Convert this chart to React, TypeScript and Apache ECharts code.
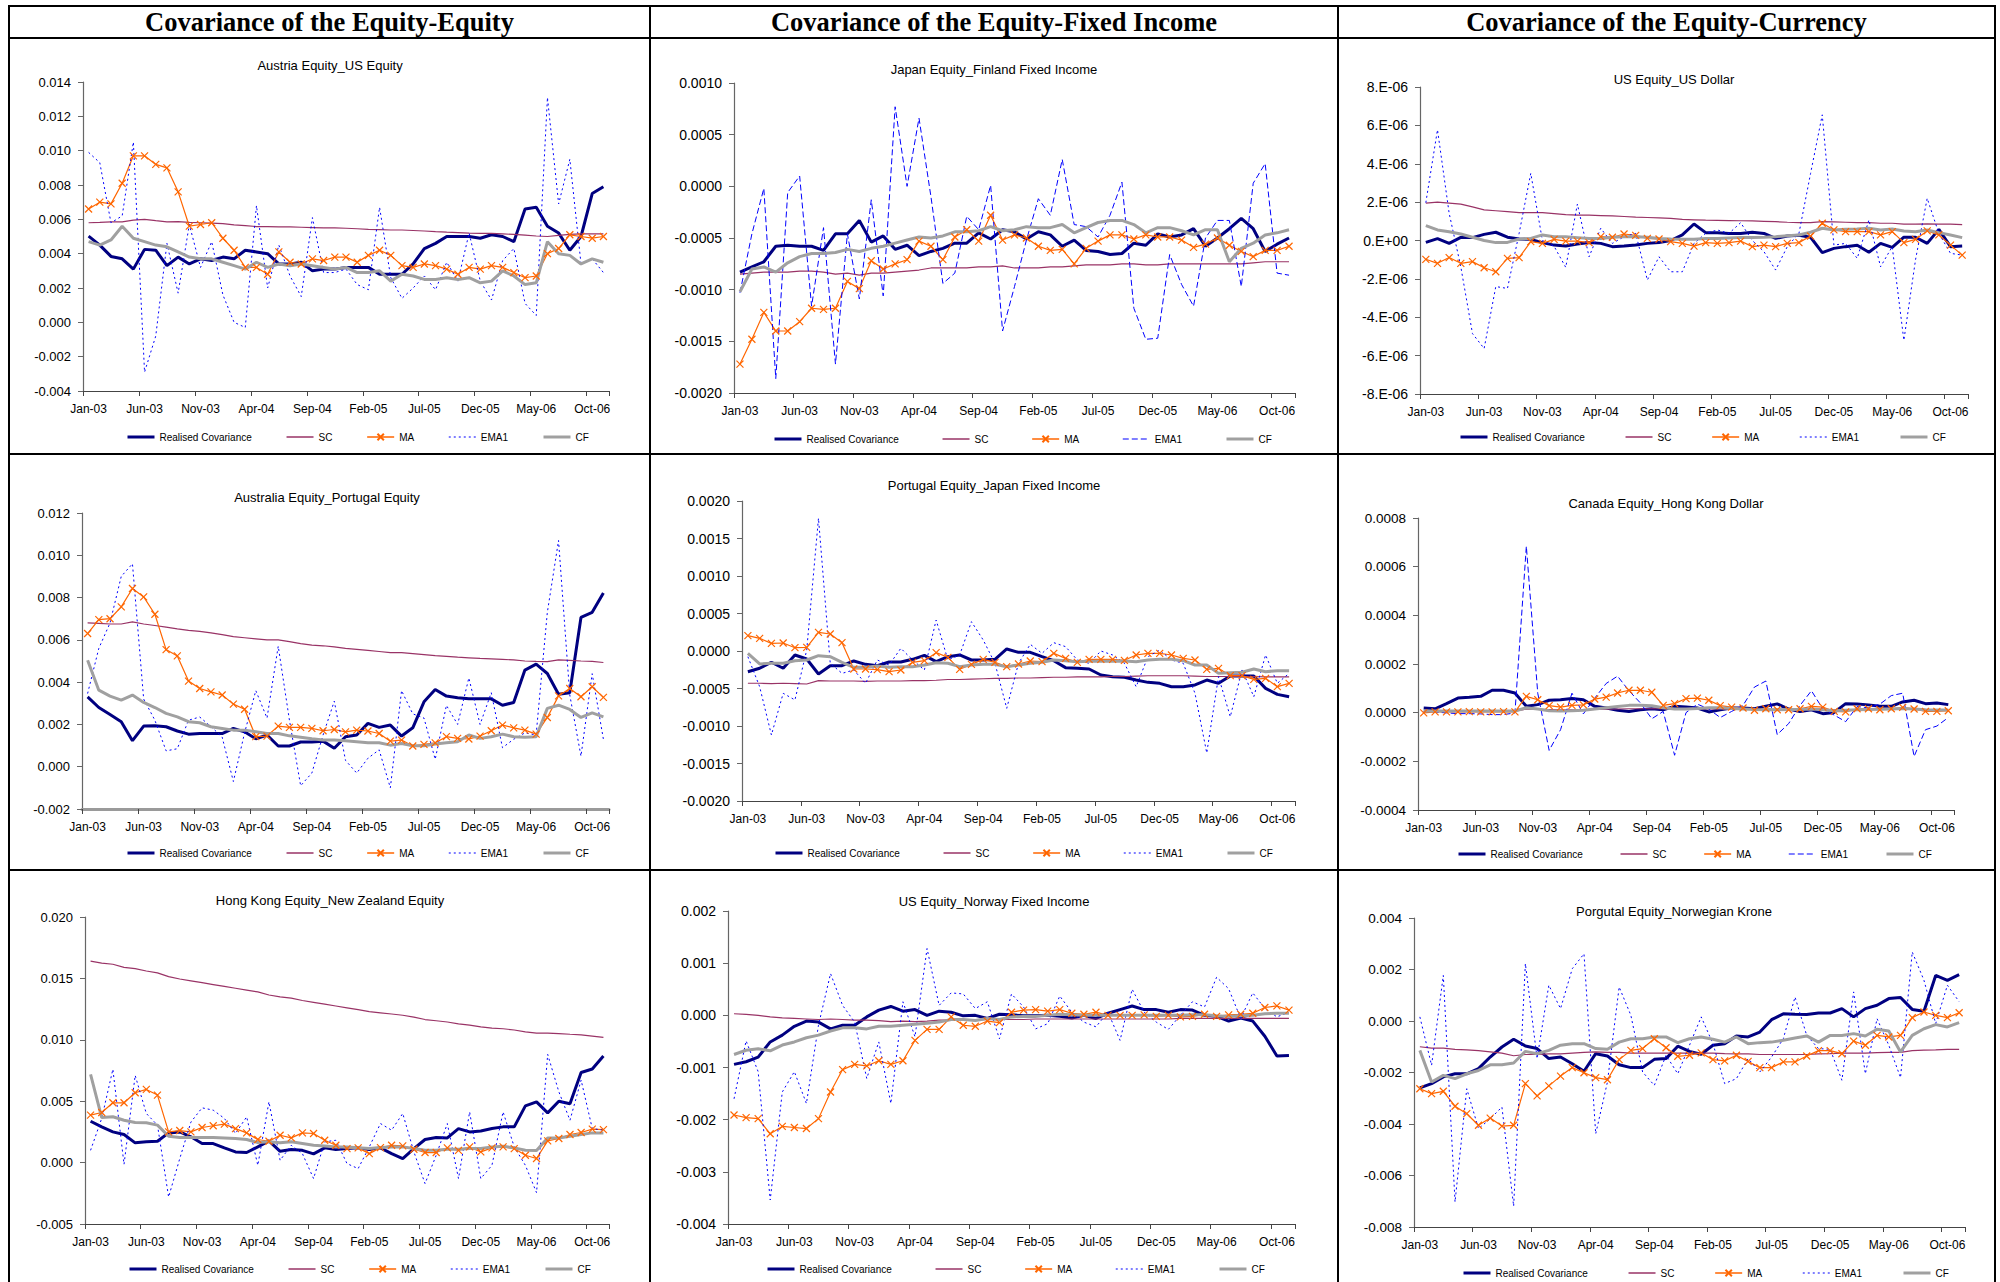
import React, { useEffect, useRef } from 'react';
import * as echarts from 'echarts';

const months = [
  'Jan-03','Feb-03','Mar-03','Apr-03','May-03','Jun-03','Jul-03','Aug-03','Sep-03','Oct-03','Nov-03','Dec-03',
  'Jan-04','Feb-04','Mar-04','Apr-04','May-04','Jun-04','Jul-04','Aug-04','Sep-04','Oct-04','Nov-04','Dec-04',
  'Jan-05','Feb-05','Mar-05','Apr-05','May-05','Jun-05','Jul-05','Aug-05','Sep-05','Oct-05','Nov-05','Dec-05',
  'Jan-06','Feb-06','Mar-06','Apr-06','May-06','Jun-06','Jul-06','Aug-06','Sep-06','Oct-06','Nov-06',
];

const seriesNames = ['Realised Covariance', 'SC', 'MA', 'EMA1', 'CF'];

const columnHeaders = [
  'Covariance of the Equity-Equity',
  'Covariance of the Equity-Fixed Income',
  'Covariance of the Equity-Currency',
];

const chartTitles = [
  'Austria Equity_US Equity',
  'Japan Equity_Finland Fixed Income',
  'US Equity_US Dollar',
  'Australia Equity_Portugal Equity',
  'Portugal Equity_Japan Fixed Income',
  'Canada Equity_Hong Kong Dollar',
  'Hong Kong Equity_New Zealand Equity',
  'US Equity_Norway Fixed Income',
  'Porgutal Equity_Norwegian Krone',
];

// value units per chart (values below are written in these units)
const units = [1e-3, 1e-4, 1e-6, 1e-3, 1e-4, 1e-4, 1e-3, 1e-3, 1e-3];
const yMins = [-0.004, -0.002, -8e-6, -0.002, -0.002, -0.0004, -0.005, -0.004, -0.008];
const yMaxs = [0.014, 0.001, 8e-6, 0.012, 0.002, 0.0008, 0.02, 0.002, 0.004];
const yIntervals = [0.002, 0.0005, 2e-6, 0.002, 0.0005, 0.0002, 0.005, 0.001, 0.002];
const yFormats = ['f3', 'f4', 'e6', 'f3', 'f4', 'f4', 'f3', 'f3', 'f3'];

// Chart 1: Austria Equity_US Equity (x1e-3)
const rc1 = [5.02,4.5,3.84,3.7,3.1,4.25,4.2,3.3,3.8,3.4,3.7,3.6,3.8,3.7,4.2,4.1,4.0,3.4,3.4,3.5,3.0,3.1,3.1,3.2,3.2,3.2,2.8,2.8,2.8,3.4,4.3,4.6,5.0,5.0,5.0,4.9,5.1,5.0,4.7,6.6,6.7,5.6,5.2,4.2,5.0,7.5,7.9];
const sc1 = [5.8,5.82,5.85,5.85,5.95,6.0,5.92,5.85,5.87,5.82,5.8,5.78,5.75,5.68,5.63,5.58,5.57,5.56,5.56,5.54,5.52,5.5,5.5,5.48,5.45,5.42,5.4,5.38,5.38,5.35,5.32,5.28,5.25,5.23,5.2,5.18,5.18,5.15,5.12,5.08,5.03,5.0,5.07,5.12,5.15,5.15,5.15];
const ma1 = [6.6,7.0,6.9,8.1,9.7,9.7,9.2,9.0,7.6,5.6,5.7,5.8,4.9,4.2,3.2,3.2,2.8,4.1,3.5,3.4,3.7,3.6,3.8,3.8,3.5,3.9,4.2,3.9,3.3,3.2,3.4,3.3,3.1,2.8,3.2,3.1,3.3,3.2,2.9,2.6,2.7,4.0,4.3,5.1,5.0,4.9,5.0];
const ema1 = [9.9,9.3,5.8,6.2,10.5,-2.9,-0.8,4.6,1.7,5.7,3.2,4.7,1.6,0.0,-0.3,6.8,2.0,4.5,2.7,1.5,6.1,2.9,2.9,3.1,2.2,1.9,6.7,2.6,1.4,2.0,2.7,1.9,3.5,2.4,5.2,2.4,1.3,3.6,4.3,1.1,0.4,13.1,6.9,9.5,3.4,3.7,2.9];
const cf1 = [4.7,4.5,4.8,5.6,4.9,4.7,4.5,4.4,4.1,3.8,3.7,3.7,3.5,3.3,3.1,3.5,3.2,3.4,3.3,3.4,3.3,3.2,3.1,3.2,2.9,2.9,3.0,2.4,2.8,2.7,2.5,2.5,2.6,2.5,2.6,2.3,2.4,3.0,2.7,2.2,2.3,4.7,4.0,3.9,3.4,3.7,3.5];

// Chart 2: Japan Equity_Finland Fixed Income (x1e-4)
const rc2 = [-8.3,-7.8,-7.3,-5.8,-5.7,-5.8,-5.8,-6.2,-4.6,-4.6,-3.3,-5.4,-4.8,-6.1,-5.7,-6.7,-6.3,-6.0,-5.5,-5.5,-4.5,-5.1,-4.2,-4.4,-5.1,-4.4,-4.7,-5.8,-5.2,-6.2,-6.3,-6.6,-6.5,-5.5,-5.7,-4.6,-4.9,-4.7,-4.1,-5.8,-5.0,-4.1,-3.1,-4.1,-6.3,-5.6,-5.0];
const sc2 = [-8.5,-8.4,-8.3,-8.3,-8.3,-8.2,-8.2,-8.3,-8.5,-8.4,-8.6,-8.4,-8.4,-8.3,-8.2,-8.1,-7.9,-7.9,-7.9,-7.9,-7.8,-7.8,-7.7,-7.9,-7.9,-7.9,-7.8,-7.8,-7.7,-7.6,-7.6,-7.6,-7.5,-7.5,-7.6,-7.6,-7.5,-7.5,-7.5,-7.5,-7.5,-7.5,-7.5,-7.4,-7.3,-7.3,-7.3];
const ma2 = [-17.2,-14.8,-12.2,-14.0,-14.0,-13.1,-11.8,-11.9,-11.8,-9.2,-9.9,-7.2,-8.0,-7.5,-7.1,-5.3,-5.8,-7.1,-4.9,-4.2,-5.3,-2.8,-5.2,-4.7,-5.0,-5.8,-6.2,-6.1,-7.5,-6.0,-5.3,-4.7,-4.7,-5.1,-4.7,-4.9,-4.9,-5.2,-5.9,-5.6,-5.0,-5.7,-6.3,-6.8,-6.2,-6.2,-5.8];
const ema2 = [-10.3,-4.6,-0.2,-18.6,-0.6,1.0,-11.6,-4.0,-17.2,-4.6,-10.9,-1.3,-10.6,7.7,0.0,6.6,-1.0,-9.4,-8.4,-2.9,-4.2,0.1,-14.0,-9.7,-5.2,-1.2,-2.8,2.6,-3.7,-3.9,-4.9,-2.8,0.4,-11.8,-14.8,-14.7,-6.6,-9.5,-11.6,-5.0,-3.3,-3.3,-9.7,0.3,2.2,-8.4,-8.6];
const cf2 = [-10.2,-8.0,-7.8,-8.3,-7.4,-6.8,-6.5,-6.5,-6.4,-6.1,-6.3,-6.0,-5.8,-5.5,-5.2,-4.9,-5.0,-4.8,-4.4,-4.4,-4.3,-3.9,-4.3,-4.2,-3.9,-4.0,-4.0,-3.7,-4.5,-4.0,-3.5,-3.3,-3.3,-3.7,-4.5,-4.0,-4.0,-4.3,-4.7,-4.2,-4.2,-7.3,-6.0,-5.5,-4.7,-4.5,-4.2];

// Chart 3: US Equity_US Dollar (x1e-6)
const rc3 = [-0.1,0.1,-0.15,0.16,0.15,0.32,0.43,0.17,0.08,0.06,-0.11,-0.24,-0.29,-0.18,-0.11,-0.15,-0.32,-0.29,-0.24,-0.15,-0.11,0.0,0.29,0.86,0.41,0.41,0.37,0.37,0.43,0.37,0.11,0.23,0.27,0.17,-0.63,-0.41,-0.32,-0.25,-0.61,-0.15,-0.36,0.17,0.17,-0.15,0.58,-0.32,-0.29];
const sc3 = [1.95,2.0,1.95,1.9,1.75,1.6,1.55,1.5,1.45,1.45,1.45,1.4,1.35,1.32,1.32,1.3,1.28,1.25,1.22,1.2,1.18,1.15,1.1,1.08,1.06,1.05,1.04,1.03,1.02,1.0,0.98,0.95,0.93,0.93,0.98,0.97,0.95,0.93,0.93,0.9,0.9,0.85,0.85,0.87,0.85,0.85,0.83];
const ma3 = [-0.98,-1.19,-0.89,-1.19,-1.1,-1.42,-1.63,-0.93,-0.89,-0.06,-0.15,0.06,-0.03,-0.03,-0.11,0.2,0.17,0.34,0.27,0.11,0.08,-0.06,-0.15,-0.29,-0.11,-0.15,-0.11,-0.03,-0.32,-0.24,-0.32,-0.15,-0.11,0.23,0.9,0.55,0.46,0.46,0.46,0.29,0.46,-0.11,0.06,0.5,0.29,-0.24,-0.76];
const ema3 = [1.97,5.77,1.42,-1.37,-4.85,-5.63,-2.4,-2.5,0.37,3.5,0.0,-0.3,-1.4,1.9,-0.85,0.64,-0.15,0.2,0.37,-2.06,-0.85,-1.63,-1.63,-0.15,0.37,0.55,0.37,0.93,0.0,-0.58,-1.54,-0.32,0.37,3.5,6.55,-0.24,-0.15,-0.93,1.07,-1.37,-0.32,-5.2,-1.0,2.2,0.37,-0.67,-0.76];
const cf3 = [0.78,0.55,0.46,0.34,0.17,0.0,-0.11,-0.1,0.08,0.11,0.29,0.2,0.2,0.15,0.1,0.1,0.17,0.2,0.2,0.17,0.11,0.08,0.06,0.06,0.1,0.11,0.13,0.15,0.15,0.17,0.2,0.25,0.29,0.43,0.64,0.55,0.58,0.6,0.64,0.55,0.6,0.5,0.46,0.55,0.41,0.29,0.15];

// Chart 4: Australia Equity_Portugal Equity (x1e-3)
const rc4 = [3.3,2.8,2.47,2.13,1.23,1.92,1.94,1.89,1.69,1.54,1.57,1.57,1.57,1.81,1.65,1.32,1.5,0.98,0.98,1.17,1.17,1.21,0.87,1.42,1.5,2.05,1.86,1.97,1.45,1.84,3.07,3.65,3.34,3.26,3.21,3.21,3.21,2.91,3.04,4.57,4.85,4.41,3.43,3.5,7.06,7.3,8.22];
const sc4 = [6.8,6.78,6.75,6.75,6.85,6.75,6.68,6.6,6.52,6.45,6.4,6.33,6.25,6.15,6.1,6.05,6.0,6.0,5.92,5.82,5.75,5.72,5.67,5.6,5.55,5.5,5.45,5.4,5.4,5.35,5.3,5.25,5.22,5.18,5.15,5.12,5.1,5.08,5.05,5.0,4.98,4.97,5.05,5.03,5.0,4.98,4.93];
const ma4 = [6.3,6.96,7.0,7.56,8.43,8.03,7.21,5.54,5.24,4.05,3.7,3.54,3.39,2.96,2.72,1.42,1.45,1.92,1.86,1.86,1.81,1.7,1.76,1.65,1.73,1.69,1.57,1.21,1.26,0.98,1.06,1.13,1.42,1.34,1.31,1.45,1.7,1.97,1.84,1.73,1.54,2.33,3.35,3.7,3.31,3.78,3.28];
const ema4 = [3.46,5.6,6.8,9.0,9.6,3.2,2.2,0.75,0.85,2.2,2.35,1.9,1.4,-0.7,1.6,3.6,2.3,5.7,2.2,-0.9,-0.3,1.5,3.1,0.3,-0.3,0.4,0.8,-1.0,3.6,2.5,2.3,0.35,2.9,2.0,4.2,2.0,3.5,0.9,1.3,1.6,1.5,7.3,10.7,3.4,0.5,4.4,1.3];
const cf4 = [5.04,3.62,3.34,3.15,3.39,3.04,2.8,2.52,2.36,2.13,2.08,1.89,1.81,1.73,1.73,1.65,1.57,1.57,1.46,1.39,1.32,1.26,1.26,1.23,1.18,1.13,1.13,1.02,1.1,0.99,0.99,1.07,1.13,1.18,1.5,1.34,1.42,1.54,1.42,1.39,1.42,2.76,2.91,2.71,2.33,2.55,2.36];

// Chart 5: Portugal Equity_Japan Fixed Income (x1e-4)
const rc5 = [-2.76,-2.3,-1.5,-2.3,-0.53,-1.07,-3.07,-1.96,-1.96,-1.33,-1.78,-1.96,-1.47,-1.47,-1.11,-0.58,-1.42,-0.76,-0.53,-1.2,-1.2,-1.11,0.27,-0.18,-0.18,-0.76,-1.29,-2.22,-2.31,-2.4,-3.2,-3.42,-3.51,-3.87,-4.18,-4.31,-4.76,-4.76,-4.53,-3.87,-4.31,-3.33,-3.33,-3.33,-4.98,-5.78,-6.09];
const sc5 = [-4.3,-4.3,-4.35,-4.3,-4.35,-4.4,-3.95,-4.0,-4.0,-4.0,-4.05,-4.0,-4.0,-4.0,-3.95,-3.95,-3.9,-3.8,-3.8,-3.75,-3.7,-3.65,-3.65,-3.6,-3.6,-3.55,-3.5,-3.5,-3.45,-3.45,-3.45,-3.4,-3.4,-3.35,-3.3,-3.3,-3.3,-3.3,-3.35,-3.4,-3.4,-3.4,-3.4,-3.4,-3.45,-3.45,-3.45];
const ma5 = [2.04,1.69,1.02,1.07,0.44,0.49,2.49,2.27,1.11,-2.4,-2.4,-2.49,-2.76,-2.53,-1.51,-1.29,-0.22,-0.84,-2.44,-1.78,-1.11,-1.51,-2.09,-1.73,-1.33,-1.42,-0.31,-0.98,-1.51,-1.11,-1.11,-1.11,-1.24,-0.53,-0.31,-0.31,-0.53,-0.98,-1.2,-2.44,-2.31,-3.29,-3.29,-3.78,-3.64,-4.76,-4.31];
const ema5 = [-0.76,-4.76,-11.2,-5.64,-6.53,0.13,17.7,-1.64,-2.98,-2.53,-4.31,-1.2,-1.87,0.36,-1.2,-2.53,4.13,-1.2,-0.53,3.91,1.47,-1.64,-7.64,-1.64,0.89,-0.31,1.11,0.58,-1.2,-1.64,0.0,-0.53,-1.64,-4.76,-0.76,0.13,-1.2,-1.64,-5.64,-13.6,-3.42,-8.76,-2.53,-6.09,-0.53,-4.31,-2.98];
const cf5 = [-0.31,-1.73,-1.64,-1.64,-1.29,-1.2,-0.62,-0.76,-1.51,-2.18,-2.18,-2.0,-2.18,-2.09,-2.09,-1.87,-1.56,-1.64,-2.09,-1.87,-1.78,-1.78,-2.09,-1.87,-1.64,-1.51,-1.2,-1.29,-1.42,-1.38,-1.38,-1.38,-1.33,-1.42,-1.2,-1.11,-1.11,-1.29,-1.87,-1.87,-2.98,-2.89,-2.84,-2.4,-2.76,-2.62,-2.62];

// Chart 6: Canada Equity_Hong Kong Dollar (x1e-4)
const rc6 = [0.19,0.16,0.37,0.6,0.63,0.67,0.92,0.92,0.81,0.26,0.33,0.51,0.53,0.58,0.53,0.26,0.19,0.1,0.05,0.12,0.16,0.12,0.26,0.23,0.19,0.03,0.12,0.19,0.19,0.16,0.26,0.36,0.15,0.05,0.12,-0.04,0.01,0.37,0.36,0.32,0.26,0.26,0.44,0.51,0.37,0.4,0.33];
const sc6 = [0.05,0.05,0.05,0.05,0.05,0.05,0.05,0.05,0.06,0.15,0.14,0.13,0.12,0.12,0.12,0.13,0.14,0.15,0.16,0.16,0.16,0.16,0.15,0.15,0.15,0.15,0.15,0.15,0.14,0.14,0.14,0.14,0.14,0.14,0.14,0.14,0.13,0.13,0.13,0.13,0.13,0.13,0.13,0.13,0.13,0.12,0.12];
const ma6 = [-0.01,0.03,0.03,0.03,0.04,0.03,0.03,0.04,0.03,0.67,0.53,0.29,0.23,0.3,0.32,0.56,0.64,0.81,0.92,0.92,0.84,0.3,0.37,0.58,0.6,0.51,0.29,0.23,0.19,0.1,0.16,0.12,0.12,0.16,0.26,0.23,0.05,0.03,0.16,0.16,0.12,0.16,0.22,0.15,0.05,0.05,0.08];
const ema6 = [0.05,0.03,-0.01,-0.04,-0.04,-0.05,-0.08,-0.08,-0.01,6.84,0.8,-1.55,-0.7,0.8,-0.05,0.6,1.2,1.5,0.9,0.4,-0.25,0.05,-1.75,0.0,0.35,0.15,-0.2,0.05,0.3,1.05,1.3,-0.9,-0.45,0.3,0.9,0.15,-0.1,-0.37,0.25,0.2,0.35,0.7,0.8,-1.8,-0.7,-0.55,-0.2];
const cf6 = [0.07,0.07,0.07,0.07,0.07,0.07,0.07,0.07,0.07,0.2,0.15,0.08,0.07,0.08,0.1,0.15,0.2,0.25,0.3,0.3,0.28,0.2,0.15,0.15,0.17,0.2,0.2,0.17,0.15,0.13,0.12,0.12,0.13,0.13,0.15,0.12,0.08,0.1,0.12,0.13,0.14,0.15,0.17,0.15,0.12,0.11,0.11];

// Chart 7: Hong Kong Equity_New Zealand Equity (x1e-3)
const rc7 = [3.37,2.91,2.5,2.29,1.61,1.69,1.74,2.42,2.5,2.1,1.55,1.55,1.2,0.87,0.82,1.28,1.77,0.92,1.06,1.0,0.71,1.2,1.06,1.14,1.2,1.06,1.2,0.73,0.33,1.14,1.88,2.04,2.01,2.77,2.5,2.58,2.77,2.91,2.91,4.62,4.95,4.05,5.0,4.79,7.34,7.62,8.68];
const sc7 = [16.4,16.25,16.15,15.9,15.8,15.6,15.45,15.15,14.95,14.8,14.65,14.5,14.35,14.2,14.05,13.9,13.65,13.5,13.4,13.2,13.05,12.9,12.75,12.6,12.45,12.3,12.2,12.1,12.0,11.85,11.65,11.55,11.45,11.3,11.2,11.05,10.95,10.9,10.8,10.65,10.55,10.55,10.5,10.45,10.4,10.3,10.2];
const ma7 = [3.86,4.08,4.87,4.87,5.69,5.96,5.5,2.5,2.61,2.5,2.86,3.0,3.13,2.77,2.42,1.88,1.74,2.23,2.01,2.42,2.37,1.82,1.41,1.14,1.2,0.73,1.22,1.41,1.36,1.09,0.82,0.82,1.2,1.0,1.28,0.87,1.2,1.28,1.14,0.6,0.33,1.77,1.96,2.29,2.45,2.72,2.69];
const ema7 = [1.0,3.6,7.6,-0.14,7.1,4.0,3.05,-2.8,0.33,3.3,4.46,4.27,3.6,2.37,3.73,-0.22,4.95,0.19,1.41,0.73,-1.3,1.69,1.82,-0.08,-0.49,1.28,3.18,2.64,4.0,0.87,-1.71,0.6,3.18,-1.3,4.13,-1.3,-0.22,4.13,1.28,-0.22,-2.45,8.81,5.77,3.45,6.72,2.77,2.64];
const cf7 = [7.18,3.67,3.73,3.45,3.26,3.24,3.05,2.15,2.04,2.04,2.04,2.04,2.01,1.96,1.88,1.63,1.69,1.61,1.69,1.55,1.41,1.36,1.28,1.28,1.2,1.14,1.22,1.28,1.28,1.14,1.0,1.0,1.09,1.09,1.14,1.14,1.28,1.33,1.2,1.0,0.98,2.01,2.01,2.15,2.29,2.42,2.42];

// Chart 8: US Equity_Norway Fixed Income (x1e-3)
const rc8 = [-0.94,-0.89,-0.8,-0.51,-0.38,-0.21,-0.11,-0.13,-0.26,-0.19,-0.19,-0.03,0.1,0.17,0.08,0.11,0.0,0.08,0.06,-0.01,0.0,-0.06,0.02,0.01,-0.01,-0.01,0.0,-0.02,-0.05,0.0,-0.06,0.04,0.11,0.18,0.11,0.11,0.06,0.11,0.1,0.0,-0.02,-0.11,-0.05,-0.11,-0.4,-0.78,-0.77];
const sc8 = [0.03,0.02,0.0,-0.03,-0.05,-0.06,-0.07,-0.08,-0.07,-0.08,-0.09,-0.09,-0.1,-0.12,-0.11,-0.12,-0.11,-0.09,-0.09,-0.09,-0.09,-0.08,-0.08,-0.08,-0.08,-0.07,-0.07,-0.07,-0.07,-0.07,-0.07,-0.07,-0.07,-0.07,-0.07,-0.07,-0.07,-0.06,-0.06,-0.06,-0.06,-0.06,-0.06,-0.06,-0.06,-0.06,-0.06];
const ma8 = [-1.91,-1.96,-1.98,-2.27,-2.13,-2.15,-2.17,-1.98,-1.47,-1.04,-0.94,-0.97,-0.87,-0.94,-0.87,-0.48,-0.27,-0.27,-0.03,-0.19,-0.21,-0.11,-0.14,0.06,0.1,0.11,0.08,0.11,0.04,0.02,0.06,0.0,0.0,0.0,0.01,-0.02,0.0,-0.03,-0.02,0.02,-0.02,0.01,0.02,0.04,0.15,0.18,0.1];
const ema8 = [-1.6,-0.49,-1.08,-3.54,-1.47,-1.08,-1.69,-0.19,0.8,0.19,-0.13,-1.21,-0.51,-1.69,0.26,-0.41,1.28,0.19,0.43,0.41,0.13,0.26,-0.45,0.41,0.16,-0.26,-0.16,0.37,0.06,-0.13,-0.22,0.06,-0.48,0.5,0.06,-0.13,-0.27,0.0,0.26,0.16,0.73,0.51,-0.06,0.43,0.13,-0.03,0.06];
const cf8 = [-0.75,-0.67,-0.64,-0.68,-0.57,-0.51,-0.43,-0.38,-0.3,-0.24,-0.24,-0.26,-0.21,-0.21,-0.19,-0.17,-0.15,-0.13,-0.08,-0.08,-0.1,-0.06,-0.08,-0.03,-0.02,-0.02,0.0,0.02,0.01,0.0,0.0,0.0,0.0,0.0,0.0,0.0,0.0,0.0,0.01,0.01,-0.01,-0.02,-0.01,0.0,0.03,0.04,0.04];

// Chart 9: Porgutal Equity_Norwegian Krone (x1e-3)
const rc9 = [-2.6,-2.43,-2.17,-2.05,-2.05,-1.85,-1.4,-1.01,-0.71,-0.97,-1.07,-1.46,-1.4,-1.66,-1.95,-1.27,-1.36,-1.7,-1.81,-1.81,-1.49,-1.46,-0.98,-1.18,-1.29,-0.94,-0.88,-0.58,-0.62,-0.43,0.05,0.28,0.26,0.25,0.31,0.31,0.48,0.16,0.48,0.61,0.87,0.91,0.45,0.38,1.77,1.58,1.8];
const sc9 = [-1.0,-1.05,-1.05,-1.1,-1.12,-1.15,-1.2,-1.25,-1.35,-1.3,-1.3,-1.28,-1.28,-1.25,-1.22,-1.2,-1.22,-1.22,-1.25,-1.25,-1.25,-1.25,-1.25,-1.25,-1.25,-1.25,-1.27,-1.28,-1.28,-1.3,-1.3,-1.3,-1.3,-1.3,-1.28,-1.27,-1.25,-1.25,-1.25,-1.23,-1.22,-1.22,-1.15,-1.13,-1.12,-1.1,-1.1];
const ma9 = [-2.63,-2.82,-2.73,-3.31,-3.6,-4.05,-3.77,-4.08,-4.05,-2.43,-2.91,-2.52,-2.14,-1.81,-2.01,-2.2,-2.28,-1.5,-1.14,-1.07,-0.69,-1.04,-1.37,-1.33,-1.24,-1.5,-1.55,-1.33,-1.57,-1.81,-1.81,-1.59,-1.59,-1.36,-1.15,-1.15,-1.27,-0.78,-0.94,-0.56,-0.62,-0.56,0.13,0.35,0.22,0.13,0.32];
const ema9 = [0.16,-1.72,1.77,-7.03,-2.63,-4.18,-3.8,-3.34,-7.19,2.23,-1.46,1.39,0.48,2.03,2.61,-4.38,-2.37,1.32,0.22,-1.98,-2.5,-1.33,-2.05,-0.94,0.16,-0.88,-2.43,-2.24,-1.46,-1.98,-1.4,-0.69,0.93,-0.56,-1.07,-1.1,-2.3,1.13,-2.05,0.09,-0.94,-2.2,2.68,1.58,-0.1,1.39,0.75];
const cf9 = [-1.14,-2.37,-2.11,-2.24,-2.05,-1.92,-1.7,-1.7,-1.63,-1.18,-1.27,-1.14,-0.94,-0.88,-0.88,-1.07,-1.1,-0.82,-0.69,-0.69,-0.62,-0.62,-0.84,-0.69,-0.62,-0.71,-0.82,-0.62,-0.88,-0.84,-0.82,-0.75,-0.66,-0.58,-0.82,-0.56,-0.56,-0.49,-0.58,-0.32,-0.39,-1.2,-0.56,-0.3,-0.14,-0.23,-0.06];

const chartData = [
  [rc1, sc1, ma1, ema1, cf1],
  [rc2, sc2, ma2, ema2, cf2],
  [rc3, sc3, ma3, ema3, cf3],
  [rc4, sc4, ma4, ema4, cf4],
  [rc5, sc5, ma5, ema5, cf5],
  [rc6, sc6, ma6, ema6, cf6],
  [rc7, sc7, ma7, ema7, cf7],
  [rc8, sc8, ma8, ema8, cf8],
  [rc9, sc9, ma9, ema9, cf9],
];

// layout (pixels): grid [left, top, width, height], title centre, legend [left, top, gap]
const layouts = [
  { grid: [83, 82, 526, 309], title: [330, 65], legend: [121, 427, 34], yFont: 13, dashed: false, axisGray: false },
  { grid: [734, 83, 561, 310], title: [994, 69], legend: [768, 429, 43], yFont: 14, dashed: true, axisGray: false },
  { grid: [1420, 87, 548, 307], title: [1674, 79], legend: [1454, 427, 40], yFont: 14, dashed: false, axisGray: false },
  { grid: [82, 513, 527, 296], title: [327, 497], legend: [121, 843, 34], yFont: 13, dashed: false, axisGray: true },
  { grid: [742, 501, 553, 300], title: [994, 485], legend: [769, 843, 43], yFont: 14, dashed: false, axisGray: false },
  { grid: [1418, 518, 536, 292], title: [1666, 503], legend: [1452, 844, 37], yFont: 13.5, dashed: true, axisGray: false },
  { grid: [85, 917, 524, 307], title: [330, 900], legend: [123, 1259, 34], yFont: 13, dashed: false, axisGray: false },
  { grid: [728, 911, 567, 313], title: [994, 901], legend: [761, 1259, 43], yFont: 14, dashed: false, axisGray: false },
  { grid: [1414, 918, 551, 309], title: [1674, 911], legend: [1457, 1263, 40], yFont: 13.5, dashed: false, axisGray: false },
];

const SANS = '"Liberation Sans", Arial, sans-serif';
const SERIF = '"Liberation Serif", "Times New Roman", serif';
const CROSS = 'path://M0,0L10,10M10,0L0,10';
const NONE_FILL = 'rgba(0,0,0,0)';
const legendLineWidths = [3, 1.5, 1.5, 1.2, 3];

function formatTick(kind: string, v: number): string {
  const val = Math.abs(v) < 1e-12 ? 0 : v;
  if (kind === 'f3') return val.toFixed(3);
  if (kind === 'f4') return val.toFixed(4);
  const m = Math.round(val * 1e6);
  if (m === 0) return '0.E+00';
  return `${m}.E-06`;
}

function buildOption() {
  const grid: any[] = [];
  const xAxis: any[] = [];
  const yAxis: any[] = [];
  const series: any[] = [];
  const legend: any[] = [];
  const graphic: any[] = [];

  // table borders
  const hLines = [6, 38, 454, 870];
  const vLines = [9, 650, 1338, 1995];
  hLines.forEach((y) => graphic.push({ type: 'line', shape: { x1: 8, y1: y, x2: 1996, y2: y }, style: { stroke: '#000', lineWidth: 2 }, silent: true }));
  vLines.forEach((x) => graphic.push({ type: 'line', shape: { x1: x, y1: 5, x2: x, y2: 1282 }, style: { stroke: '#000', lineWidth: 2 }, silent: true }));
  const headerX = [329.5, 994, 1666.5];
  columnHeaders.forEach((t, i) => graphic.push({
    type: 'text', x: headerX[i], y: 22,
    style: { text: t, fontSize: 26.5, fontWeight: 'bold', fontFamily: SERIF, fill: '#000', align: 'center', verticalAlign: 'middle', textAlign: 'center', textVerticalAlign: 'middle' },
    silent: true,
  }));

  layouts.forEach((lay, i) => {
    const [gl, gt, gw, gh] = lay.grid;
    grid.push({ left: gl, top: gt, width: gw, height: gh, containLabel: false });
    graphic.push({
      type: 'text', x: lay.title[0], y: lay.title[1],
      style: { text: chartTitles[i], fontSize: 13, fontFamily: SANS, fill: '#000', align: 'center', verticalAlign: 'middle', textAlign: 'center', textVerticalAlign: 'middle' },
      silent: true,
    });
    xAxis.push({
      type: 'category', gridIndex: i, data: months, boundaryGap: true,
      axisLine: { show: true, onZero: false, lineStyle: { color: lay.axisGray ? '#9a9a9a' : '#444', width: lay.axisGray ? 3 : 1.2 } },
      axisTick: { show: true, interval: 4, length: 5, inside: false, lineStyle: { color: '#444' } },
      axisLabel: { interval: 4, fontSize: 12, fontFamily: SANS, color: '#000', margin: 12 },
      splitLine: { show: false },
    });
    yAxis.push({
      type: 'value', gridIndex: i, min: yMins[i], max: yMaxs[i], interval: yIntervals[i],
      axisLine: { show: true, lineStyle: { color: '#666', width: 1.2 } },
      axisTick: { show: true, length: 5, inside: false, lineStyle: { color: '#666' } },
      axisLabel: { fontSize: lay.yFont, fontFamily: SANS, color: '#000', margin: 12, formatter: (v: number) => formatTick(yFormats[i], v) },
      splitLine: { show: false },
    });
    const names = seriesNames.map((n) => `${n}|${i}`);
    const styles: any[] = [
      { symbol: 'none', lineStyle: { color: '#000080', width: 3 }, itemStyle: { color: NONE_FILL } },
      { symbol: 'none', lineStyle: { color: '#993366', width: 1.2 }, itemStyle: { color: NONE_FILL } },
      { symbol: CROSS, symbolSize: 7, showSymbol: true, showAllSymbol: true, lineStyle: { color: '#FF6600', width: 1.2 }, itemStyle: { color: '#FF6600', borderColor: '#FF6600', borderWidth: 1.2 } },
      { symbol: 'none', lineStyle: { color: '#0000FF', width: 1, type: lay.dashed ? [6, 3] : [2, 3] }, itemStyle: { color: NONE_FILL } },
      { symbol: 'none', lineStyle: { color: '#A0A0A0', width: 3 }, itemStyle: { color: NONE_FILL } },
    ];
    chartData[i].forEach((arr, k) => {
      series.push({
        type: 'line', name: names[k], xAxisIndex: i, yAxisIndex: i,
        data: arr.map((v) => v * units[i]),
        silent: true, emphasis: { disabled: true },
        ...styles[k],
      });
    });
    legend.push({
      data: names.map((n, k) => (k === 2
        ? { name: n, lineStyle: { width: legendLineWidths[k] } }
        : { name: n, lineStyle: { width: legendLineWidths[k] }, itemStyle: { color: NONE_FILL, opacity: 0, borderWidth: 0 } })),
      left: lay.legend[0], top: lay.legend[1], itemGap: lay.legend[2],
      itemWidth: 27, itemHeight: 8, selectedMode: false, orient: 'horizontal',
      formatter: (n: string) => n.split('|')[0],
      textStyle: { fontSize: 10, fontFamily: SANS, color: '#000' },
    });
  });

  return { animation: false, backgroundColor: '#fff', grid, xAxis, yAxis, series, legend, graphic };
}

export default function App() {
  const ref = useRef<HTMLDivElement>(null);
  useEffect(() => {
    if (!ref.current) return;
    const chart = echarts.init(ref.current, null, { renderer: 'svg' });
    chart.setOption(buildOption());
    return () => chart.dispose();
  }, []);
  return (
    <div
      ref={ref}
      style={{ position: 'absolute', left: 0, top: 0, width: 2000, height: 1282, background: '#fff' }}
    />
  );
}
